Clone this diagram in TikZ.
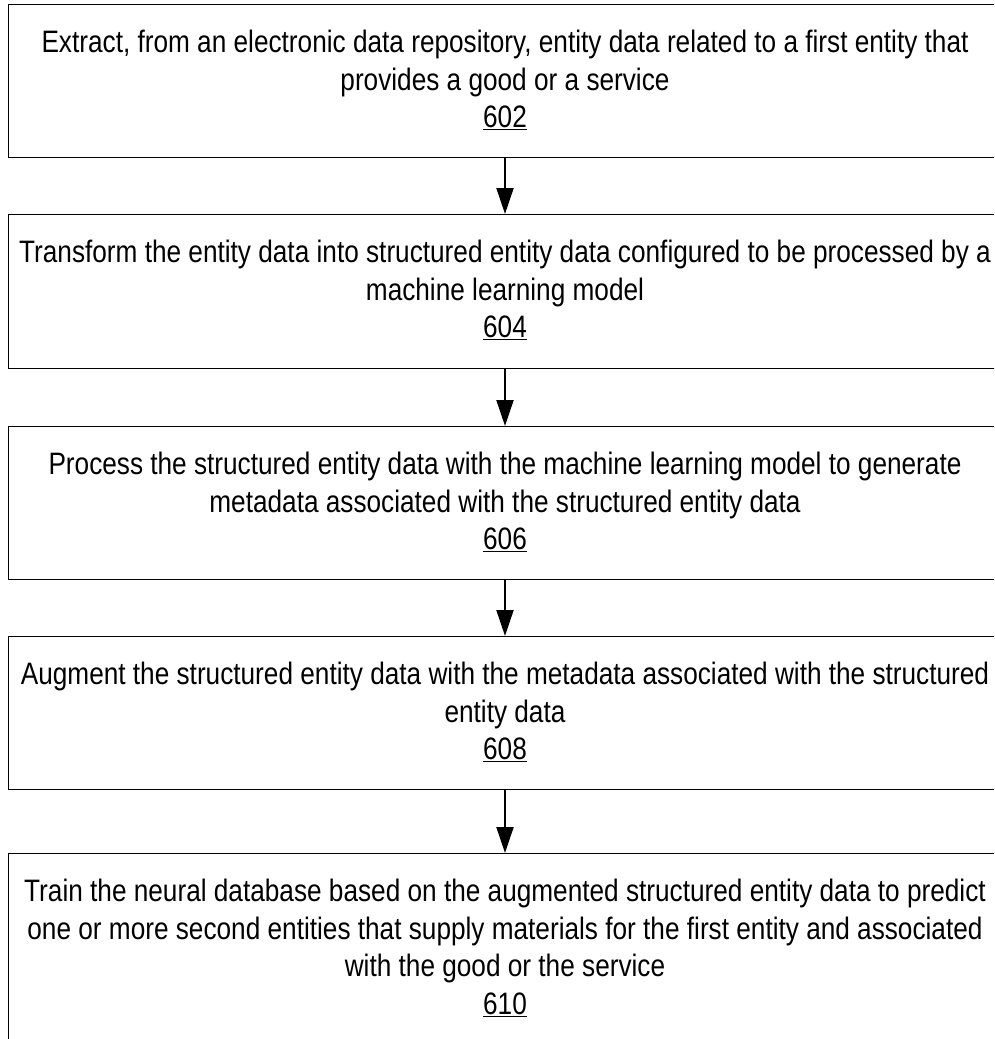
\documentclass[tikz,border=0pt]{standalone}
\usepackage{fontspec}
\setmainfont{Liberation Sans}[FakeStretch=0.845]
\usetikzlibrary{arrows.meta}
\begin{document}
\begin{tikzpicture}[x=1pt,y=1pt,
  stepbox/.style={draw=black, line width=1.4pt, minimum width=993pt, inner sep=0pt, anchor=north},
  steptext/.style={align=center, inner sep=0pt, anchor=north, font=\fontsize{31}{37.5}\selectfont},
  flow/.style={draw=black, line width=2pt, -{Triangle[width=17pt,length=26pt]}}]
\clip (0,0) rectangle (994,-1039);
% process boxes
\node[stepbox, minimum height=153pt] (b1) at (505,-4) {};
\node[stepbox, minimum height=154pt] (b2) at (505,-214) {};
\node[stepbox, minimum height=153pt] (b3) at (505,-426) {};
\node[stepbox, minimum height=153pt] (b4) at (505,-636) {};
\node[stepbox, minimum height=260pt] (b5) at (505,-853) {};
% step texts
\node[steptext] (t1) at ([yshift=-22.25pt]b1.north) {\strut Extract, from an electronic data repository, entity data related to a first entity that\\provides a good or a service\\\underline{602}};
\node[steptext] (t2) at ([yshift=-22.25pt]b2.north) {\strut Transform the entity data into structured entity data configured to be processed by a\\machine learning model\\\underline{604}};
\node[steptext] (t3) at ([yshift=-22.25pt]b3.north) {\strut Process the structured entity data with the machine learning model to generate\\metadata associated with the structured entity data\\\underline{606}};
\node[steptext] (t4) at ([yshift=-22.25pt]b4.north) {\strut Augment the structured entity data with the metadata associated with the structured\\entity data\\\underline{608}};
\node[steptext] (t5) at ([yshift=-22.25pt]b5.north) {\strut Train the neural database based on the augmented structured entity data to predict\\one or more second entities that supply materials for the first entity and associated\\with the good or the service\\\underline{610}};
% flow arrows
\draw[flow] (b1.south) -- (b2.north);
\draw[flow] (b2.south) -- (b3.north);
\draw[flow] (b3.south) -- (b4.north);
\draw[flow] (b4.south) -- (b5.north);
\end{tikzpicture}
\end{document}
